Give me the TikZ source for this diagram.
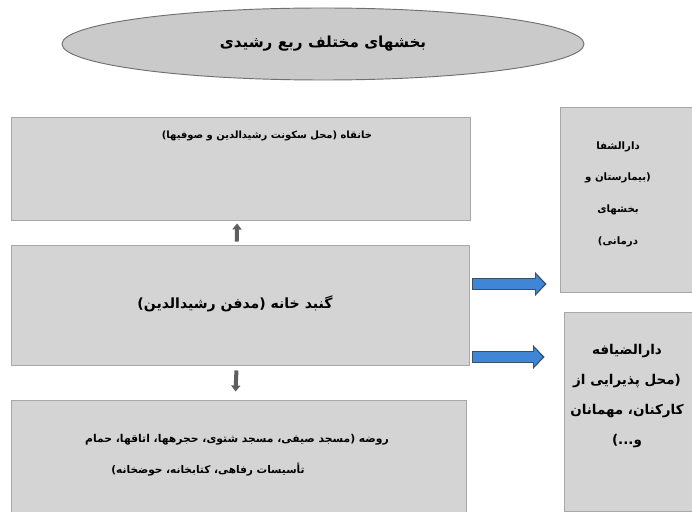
\documentclass[tikz,border=0pt]{standalone}
\usepackage{fontspec}
\newfontfamily\arabicfont[Script=Arabic]{DejaVu Sans}
\TeXXeTstate=1
\usetikzlibrary{arrows.meta, positioning, calc, shapes.geometric}
\definecolor{boxfill}{HTML}{D4D4D4}
\definecolor{boxrim}{HTML}{A8A8A8}
\definecolor{ovalfill}{HTML}{CACACA}
\definecolor{ovalrim}{HTML}{707070}
\definecolor{arrowgray}{HTML}{5E5E5E}
\definecolor{arrowblue}{HTML}{3F86D6}
\definecolor{arrowrim}{HTML}{3A4F66}

\begin{document}
\begin{tikzpicture}[x=0.03cm, y=-0.03cm,
    part/.style={rectangle, draw=boxrim, fill=boxfill, line width=0.8pt, inner sep=0pt},
    fatext/.style={font=\arabicfont\bfseries\fontsize{8.5}{17}\selectfont, align=center, inner sep=0pt},
    titleoval/.style={ellipse, draw=ovalrim, fill=ovalfill, line width=0.8pt, inner sep=0pt,
        minimum width=15.66cm, minimum height=2.16cm, font=\arabicfont\bfseries\fontsize{13}{15}\selectfont},
    grayarrow/.style={draw=arrowgray, line width=0.12cm, -{Triangle[length=0.18cm, width=0.27cm]}},
    bluerim/.style={draw=arrowrim, line width=0.36cm, -{Triangle[length=0.34cm, width=0.69cm]}},
    bluecore/.style={draw=arrowblue, line width=0.28cm, -{Triangle[length=0.26cm, width=0.55cm]}}]
    \useasboundingbox (0,0) rectangle (692,512);
    % Title
    \node[titleoval] (title) at (323,44) {\beginR بخشهای مختلف ربع رشیدی\endR};
    % Main column
    \node[part, minimum width=13.77cm, minimum height=3.09cm] (khanqah) at (240.5,168.5) {};
    \node[fatext] (khanqahtext) at (267,136) {\beginR خانقاه (محل سکونت رشیدالدین و صوفیها)\endR};
    \node[part, minimum width=13.74cm, minimum height=3.6cm] (gonbad) at (240,305) {};
    \node[fatext, font=\arabicfont\bfseries\fontsize{12}{15}\selectfont] (gonbadtext) at (235,304) {\beginR گنبد خانه (مدفن رشیدالدین)\endR};
    \node[part, minimum width=13.65cm, minimum height=3.42cm] (rowze) at (238.5,457) {};
    \node[fatext, font=\arabicfont\bfseries\fontsize{9.2}{15}\selectfont] (rowzetexta) at (237,440) {\beginR روضه (مسجد صیفی، مسجد شتوی، حجرهها، اتاقها، حمام\endR};
    \node[fatext, font=\arabicfont\bfseries\fontsize{9}{15}\selectfont] (rowzetextb) at (208,470) {\beginR تأسیسات رفاهی، کتابخانه، حوضخانه)\endR};
    % Right column
    \node[part, minimum width=4.2cm, minimum height=5.55cm] (shafa) at (630,199.5) {};
    \node[fatext, font=\arabicfont\bfseries\fontsize{8.7}{27}\selectfont] (shafatext) at (618,194) {\beginR دارالشفا\endR\\\beginR (بیمارستان و\endR\\\beginR بخشهای\endR\\\beginR درمانی)\endR};
    \node[part, minimum width=4.08cm, minimum height=5.97cm] (zyafa) at (632,411.5) {};
    \node[fatext, font=\arabicfont\bfseries\fontsize{11.5}{25.5}\selectfont] (zyafatext) at (627,396) {\beginR دارالضیافه\endR\\\beginR (محل پذیرایی از\endR\\\beginR کارکنان، مهمانان\endR\\\beginR و...)\endR};
    % Arrows
    \draw[grayarrow, shorten <=0.09cm, shorten >=0.09cm] ([xshift=-0.1cm]gonbad.north) -- ([xshift=-0.1cm]khanqah.south);
    \draw[grayarrow, shorten <=0.15cm, shorten >=0.24cm] ([xshift=-0.1cm]gonbad.south) -- ([xshift=-0.1cm]rowze.north);
    \draw[bluerim, shorten <=0.09cm, shorten >=0.39cm] ([yshift=0.63cm]gonbad.east) -- ([yshift=0.63cm]gonbad.east -| shafa.west);
    \draw[bluecore, shorten <=0.12cm, shorten >=0.45cm] ([yshift=0.63cm]gonbad.east) -- ([yshift=0.63cm]gonbad.east -| shafa.west);
    \draw[bluerim, shorten <=0.09cm, shorten >=0.57cm] ([yshift=-1.56cm]gonbad.east) -- ([yshift=-1.56cm]gonbad.east -| zyafa.west);
    \draw[bluecore, shorten <=0.12cm, shorten >=0.63cm] ([yshift=-1.56cm]gonbad.east) -- ([yshift=-1.56cm]gonbad.east -| zyafa.west);
\end{tikzpicture}
\end{document}
